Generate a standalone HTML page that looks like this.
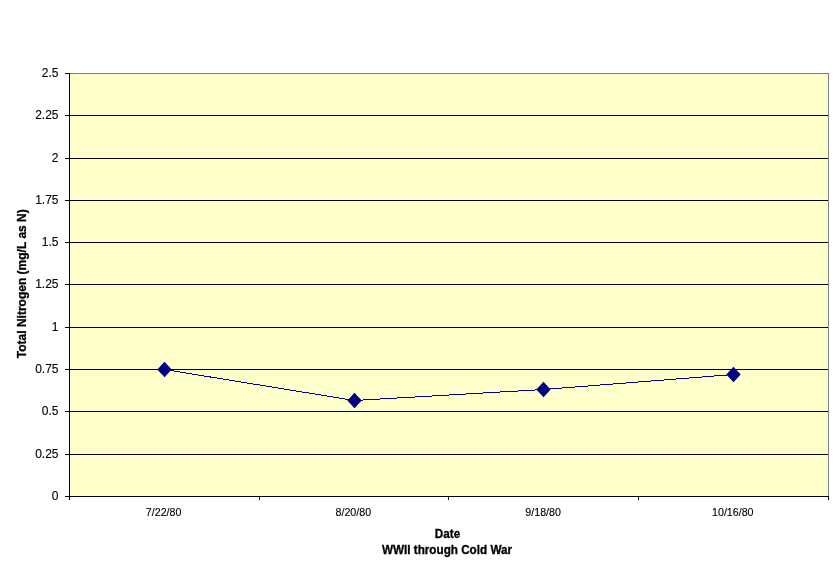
<!DOCTYPE html>
<html><head><meta charset="utf-8"><title>Chart</title>
<style>
html,body{margin:0;padding:0;background:#fff;}
body{width:838px;height:571px;overflow:hidden;position:relative;font-family:"Liberation Sans",sans-serif;}
svg{will-change:transform;position:absolute;left:0;top:0;display:block;}
text{font-family:"Liberation Sans",sans-serif;fill:#000;}
.yl{font-size:12px;text-anchor:end;stroke:#000;stroke-width:0.12px;}
.xl{font-size:11px;text-anchor:middle;stroke:#000;stroke-width:0.12px;}
.b{font-size:12px;font-weight:bold;text-anchor:middle;stroke:#000;stroke-width:0.3px;}
</style></head><body>
<svg width="838" height="571" viewBox="0 0 838 571">
<rect x="0" y="0" width="838" height="571" fill="#ffffff"/>
<rect x="69" y="73" width="759" height="423" fill="#ffffcc"/>
<g shape-rendering="crispEdges">
<rect x="69" y="73" width="760" height="1" fill="#808080"/>
<rect x="828" y="73" width="1" height="424" fill="#808080"/>
<rect x="69" y="454" width="759" height="1" fill="#000"/>
<rect x="69" y="411" width="759" height="1" fill="#000"/>
<rect x="69" y="369" width="759" height="1" fill="#000"/>
<rect x="69" y="327" width="759" height="1" fill="#000"/>
<rect x="69" y="284" width="759" height="1" fill="#000"/>
<rect x="69" y="242" width="759" height="1" fill="#000"/>
<rect x="69" y="200" width="759" height="1" fill="#000"/>
<rect x="69" y="158" width="759" height="1" fill="#000"/>
<rect x="69" y="115" width="759" height="1" fill="#000"/>
<rect x="69" y="73" width="1" height="424" fill="#000"/>
<rect x="69" y="496" width="760" height="1" fill="#000"/>
<rect x="65" y="496" width="4" height="1" fill="#000"/>
<rect x="65" y="454" width="4" height="1" fill="#000"/>
<rect x="65" y="411" width="4" height="1" fill="#000"/>
<rect x="65" y="369" width="4" height="1" fill="#000"/>
<rect x="65" y="327" width="4" height="1" fill="#000"/>
<rect x="65" y="284" width="4" height="1" fill="#000"/>
<rect x="65" y="242" width="4" height="1" fill="#000"/>
<rect x="65" y="200" width="4" height="1" fill="#000"/>
<rect x="65" y="158" width="4" height="1" fill="#000"/>
<rect x="65" y="115" width="4" height="1" fill="#000"/>
<rect x="65" y="73" width="4" height="1" fill="#000"/>
<rect x="69" y="496" width="1" height="4" fill="#000"/>
<rect x="259" y="496" width="1" height="4" fill="#000"/>
<rect x="448" y="496" width="1" height="4" fill="#000"/>
<rect x="638" y="496" width="1" height="4" fill="#000"/>
<rect x="828" y="496" width="1" height="4" fill="#000"/>
</g>
<path d="M164.5,369.5 L354.5,400.5 L543.5,389.5 L733.5,374.5" fill="none" stroke="#000080" stroke-width="1" shape-rendering="crispEdges"/>
<path d="M164.5,361.8 L171.7,369.5 L164.5,377.2 L157.3,369.5 Z" fill="#000080"/>
<path d="M354.5,392.8 L361.7,400.5 L354.5,408.2 L347.3,400.5 Z" fill="#000080"/>
<path d="M543.5,381.8 L550.7,389.5 L543.5,397.2 L536.3,389.5 Z" fill="#000080"/>
<path d="M733.5,366.8 L740.7,374.5 L733.5,382.2 L726.3,374.5 Z" fill="#000080"/>
<text class="yl" transform="translate(58.5,500)">0</text>
<text class="yl" transform="translate(58.5,458)">0.25</text>
<text class="yl" transform="translate(58.5,415)">0.5</text>
<text class="yl" transform="translate(58.5,373)">0.75</text>
<text class="yl" transform="translate(58.5,331)">1</text>
<text class="yl" transform="translate(58.5,288)">1.25</text>
<text class="yl" transform="translate(58.5,246)">1.5</text>
<text class="yl" transform="translate(58.5,204)">1.75</text>
<text class="yl" transform="translate(58.5,162)">2</text>
<text class="yl" transform="translate(58.5,119)">2.25</text>
<text class="yl" transform="translate(58.5,77)">2.5</text>
<text class="xl" transform="translate(163.6,516) scale(0.97,1)">7/22/80</text>
<text class="xl" transform="translate(353.3,516) scale(0.97,1)">8/20/80</text>
<text class="xl" transform="translate(543.1,516) scale(0.97,1)">9/18/80</text>
<text class="xl" transform="translate(732.8,516) scale(0.97,1)">10/16/80</text>
<text class="b" transform="translate(447.5,538) scale(0.975,1)">Date</text>
<text class="b" transform="translate(447,554) scale(0.975,1)">WWII through Cold War</text>
<text class="b" transform="translate(26,283.7) rotate(-90)">Total Nitrogen (mg/L as N)</text>
</svg>
</body></html>
